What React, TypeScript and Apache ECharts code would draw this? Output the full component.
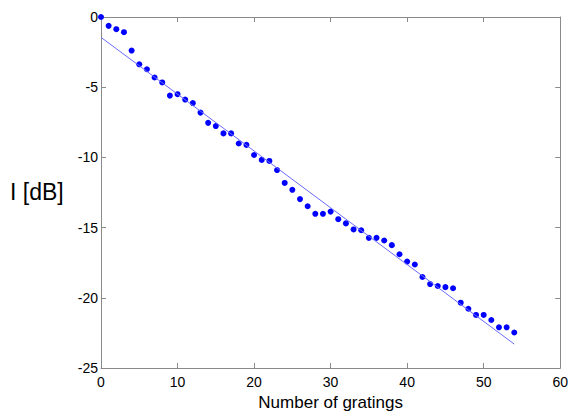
import React, { useEffect, useRef } from "react";
import * as echarts from "echarts";

const gratings: number[] = [
  0, 1, 2, 3, 4, 5, 6, 7, 8, 9, 10, 11, 12, 13, 14, 15, 16, 17, 18, 19, 20,
  21, 22, 23, 24, 25, 26, 27, 28, 29, 30, 31, 32, 33, 34, 35, 36, 37, 38, 39,
  40, 41, 42, 43, 44, 45, 46, 47, 48, 49, 50, 51, 52, 53, 54,
];
const intensity: number[] = [
  0, -0.63, -0.87, -1.08, -2.39, -3.37, -3.72, -4.31, -4.66, -5.6, -5.5,
  -5.88, -6.13, -6.81, -7.54, -7.77, -8.29, -8.29, -9.01, -9.11, -9.83,
  -10.18, -10.25, -10.9, -11.82, -12.31, -12.97, -13.48, -14.02, -14.02,
  -13.86, -14.4, -14.7, -15.13, -15.19, -15.73, -15.73, -15.92, -16.25,
  -16.9, -17.42, -17.63, -18.52, -19.02, -19.16, -19.24, -19.32, -20.35,
  -20.78, -21.22, -21.22, -21.58, -22.1, -22.1, -22.47,
];
const fitX: number[] = [0, 54];
const fitY: number[] = [-1.45, -23.3];

const AXIS_COLOR = "#8a8a8a";
const FONT = "Liberation Sans, Arial, Helvetica, sans-serif";

export default function App() {
  const ref = useRef<HTMLDivElement>(null);
  useEffect(() => {
    if (!ref.current) return;
    const chart = echarts.init(ref.current, undefined, { renderer: "svg" });
    const axisCommon = {
      axisLine: { show: true, onZero: false, lineStyle: { color: AXIS_COLOR, width: 1 } },
      axisTick: { show: true, inside: true, length: 5, lineStyle: { color: AXIS_COLOR } },
      splitLine: { show: false },
    };
    chart.setOption({
      animation: false,
      backgroundColor: "#ffffff",
      textStyle: { fontFamily: FONT },
      grid: { left: 101, right: 10, top: 17, bottom: 43, containLabel: false },
      xAxis: [
        {
          type: "value",
          min: 0,
          max: 60,
          interval: 10,
          position: "bottom",
          ...axisCommon,
          axisLabel: { color: "#000", fontSize: 14, fontFamily: FONT, margin: 7 },
          name: "Number of gratings",
          nameLocation: "middle",
          nameGap: 26,
          nameTextStyle: { color: "#000", fontSize: 17, fontFamily: FONT },
        },
        {
          type: "value",
          min: 0,
          max: 60,
          interval: 10,
          position: "top",
          ...axisCommon,
          axisLabel: { show: false },
        },
      ],
      yAxis: [
        {
          type: "value",
          min: -25,
          max: 0,
          interval: 5,
          position: "left",
          ...axisCommon,
          axisLabel: { color: "#000", fontSize: 14, fontFamily: FONT, margin: 3 },
        },
        {
          type: "value",
          min: -25,
          max: 0,
          interval: 5,
          position: "right",
          ...axisCommon,
          axisLabel: { show: false },
        },
      ],
      graphic: [
        {
          type: "text",
          left: 10,
          top: 180,
          style: { text: "I [dB]", fill: "#000", fontSize: 23, fontFamily: FONT },
        },
      ],
      series: [
        {
          type: "line",
          data: fitX.map((x, i) => [x, fitY[i]]),
          showSymbol: false,
          symbol: "none",
          lineStyle: { color: "#6b6bff", width: 1 },
          silent: true,
        },
        {
          type: "scatter",
          data: gratings.map((x, i) => [x, intensity[i]]),
          symbol: "circle",
          symbolSize: 6,
          itemStyle: { color: "#0000ff", opacity: 1 },
          clip: false,
        },
      ],
    });
    return () => chart.dispose();
  }, []);
  return <div ref={ref} style={{ width: 571, height: 416, position: "absolute", left: 0, top: 0 }} />;
}
